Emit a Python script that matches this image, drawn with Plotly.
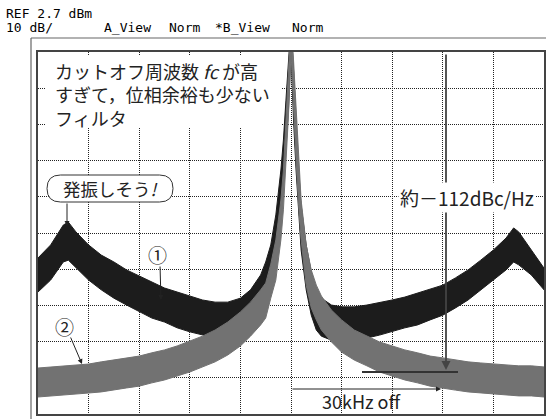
import plotly.graph_objects as go

# ---------------- data (offset frequency in kHz, level in dB below REF) -------------
freq_khz = [-50, -47.5, -45, -44, -42.5, -40, -37.5, -35, -32.5, -30, -27.5, -25, -22.5,
            -20, -17.5, -15, -12.5, -10, -8, -6, -5, -4, -3, -2, -1.5, -1, -0.5, 0,
            0.5, 1, 1.5, 2, 3, 4, 5, 6, 8, 10, 12.5, 15, 17.5, 20, 22.5, 25, 27.5,
            30, 32.5, 35, 37.5, 40, 42.5, 44, 45, 47.5, 50]

# trace A (black, (1)) : upper / lower edge of the noise band
a_upper = [-56.9, -53.3, -47.8, -47.0, -49.7, -53.3, -56.1, -58.0, -60.2, -61.9, -63.5, -65.2, -66.3,
           -67.4, -68.5, -69.1, -69.1, -68.0, -65.7, -61.6, -58.0, -53.3, -45.0, -32.6, -24.3, -13.3, -2.2, 8.0,
           -5.0, -18.8, -32.6, -42.3, -53.3, -60.8, -65.7, -68.0, -69.9, -70.4, -70.4, -69.9, -69.3, -68.5, -67.7, -66.6, -65.7,
           -64.4, -62.4, -60.2, -57.5, -54.7, -51.4, -48.6, -49.7, -54.7, -59.7]
a_lower = [-66.3, -63.0, -58.0, -57.5, -59.7, -63.0, -65.7, -68.0, -69.9, -71.8, -73.5, -74.6, -76.2,
           -77.3, -78.2, -79.0, -79.0, -78.2, -75.4, -71.8, -68.5, -64.4, -57.5, -45.0, -36.7, -27.1, -16.0, 0.0,
           -18.8, -32.6, -45.0, -54.7, -65.7, -72.7, -76.8, -78.5, -79.6, -79.6, -79.6, -79.0, -78.2, -77.3, -76.2, -75.4, -74.0,
           -72.7, -70.7, -68.5, -65.7, -63.0, -60.2, -58.0, -58.8, -61.6, -65.7]

# trace B (gray, (2))
b_upper = [-87.3, -87.0, -86.7, -86.6, -86.5, -86.2, -85.6, -85.1, -84.5, -84.0, -83.1, -82.3, -81.2,
           -79.8, -78.5, -76.8, -74.6, -71.8, -69.1, -65.7, -63.8, -58.6, -51.9, -40.9, -32.6, -18.8, -5.0, 8.0,
           -2.2, -16.0, -29.8, -40.9, -53.3, -60.2, -64.4, -67.4, -71.3, -74.0, -76.8, -78.5, -80.1, -81.2, -82.3, -83.1, -84.0,
           -84.5, -85.1, -85.6, -85.9, -86.2, -86.5, -86.6, -86.7, -86.7, -87.0]
b_lower = [-95.3, -95.0, -94.8, -94.7, -94.5, -94.2, -93.9, -93.4, -92.8, -92.3, -91.4, -90.6, -89.5,
           -88.4, -87.0, -85.6, -83.7, -81.2, -78.5, -75.4, -73.5, -68.0, -63.0, -51.9, -43.6, -31.2, -17.4, 0.0,
           -16.0, -29.8, -42.3, -51.9, -64.4, -70.7, -74.0, -76.8, -80.1, -82.9, -85.1, -86.7, -88.4, -89.5, -90.6, -91.4, -92.3,
           -92.8, -93.4, -93.9, -94.2, -94.5, -94.8, -94.9, -95.0, -95.0, -95.3]

header_line1 = "REF 2.7 dBm"
header_line2 = ["10 dB/", "A_View", "Norm", "*B_View", "Norm"]

# ---------------- figure -------------------------------------------------------------
W, H = 546, 419
ML, MR, MT, MB = 38, 2, 52, 5
PW, PH = W - ML - MR, H - MT - MB


def px(x):
    return (x - ML) / PW


def py(y):
    return (H - MB - y) / PH


fig = go.Figure()


def band(upper, lower, color):
    fig.add_trace(go.Scatter(
        x=freq_khz + freq_khz[::-1],
        y=upper + lower[::-1],
        mode="lines", fill="toself", fillcolor=color,
        line=dict(color=color, width=1), hoverinfo="skip"))


band(a_upper, a_lower, "#1c1c1c")
band(b_upper, b_lower, "#727272")

grid = dict(showgrid=True, gridcolor="#222", griddash="1px,1px", gridwidth=1, showticklabels=False,
            ticks="", zeroline=False, showline=True, mirror=True, linecolor="#444", linewidth=1.5)
fig.update_xaxes(range=[-50, 50], dtick=10, tick0=-50, **grid)
fig.update_yaxes(range=[-100, 0], dtick=10, tick0=-100, **grid)

jp = "Noto Sans CJK JP"
tc = "#222"
shapes = []
# outer frame
shapes.append(dict(type="line", xref="paper", yref="paper", x0=px(31), x1=px(31), y0=py(38), y1=py(425),
                   line=dict(color="#666", width=1.2)))
shapes.append(dict(type="line", xref="paper", yref="paper", x0=px(31), x1=px(550), y0=py(38), y1=py(38),
                   line=dict(color="#666", width=1.2)))
# white box behind the description text
shapes.append(dict(type="rect", xref="paper", yref="paper", x0=px(46), x1=px(282), y0=py(56), y1=py(128),
                   fillcolor="white", line=dict(width=0), layer="above"))
# callout bubble
x0b, x1b, yt, yb = px(47), px(173), py(175), py(202)
rx, ry = 13.5 / PW, 13.5 / PH
ym = (yt + yb) / 2
path = (f"M {x0b+rx},{yt} L {x1b-rx},{yt} Q {x1b},{yt} {x1b},{ym} Q {x1b},{yb} {x1b-rx},{yb} "
        f"L {x0b+rx},{yb} Q {x0b},{yb} {x0b},{ym} Q {x0b},{yt} {x0b+rx},{yt} Z")
shapes.append(dict(type="path", xref="paper", yref="paper", path=path, fillcolor="white",
                   line=dict(color="#333", width=1), layer="above"))
# marker level line
shapes.append(dict(type="line", xref="paper", yref="paper", x0=px(362), x1=px(458), y0=py(372), y1=py(372),
                   line=dict(color="#333", width=2), layer="above"))
fig.update_layout(shapes=shapes)

ann = []
mono = dict(family="DejaVu Sans Mono", size=13, color="#000")
ann.append(dict(text=header_line1, x=px(4), y=py(13), xref="paper", yref="paper", xanchor="left",
                yanchor="middle", showarrow=False, font=mono))
for t, xp in zip(header_line2, [4, 102, 167, 213, 290]):
    ann.append(dict(text=t, x=px(xp), y=py(28), xref="paper", yref="paper", xanchor="left",
                    yanchor="middle", showarrow=False, font=mono))

ann.append(dict(text="カットオフ周波数 <i>fc</i> が高<br>すぎて，位相余裕も少ない<br>フィルタ",
                x=px(53), y=py(94.5), xref="paper", yref="paper", xanchor="left", align="left",
                yanchor="middle", showarrow=False, font=dict(family=jp, size=18, color=tc)))


def arrow(x_head, y_head, x_tail, y_tail, width=1, color="#222"):
    ann.append(dict(text="", x=px(x_head), y=py(y_head), xref="paper", yref="paper",
                    ax=x_tail - x_head, ay=y_tail - y_head, showarrow=True, arrowhead=2,
                    arrowsize=1, arrowwidth=width, arrowcolor=color))


arrow(446, 370, 446, 53, width=1.8, color="#444")
ann.append(dict(text="約－112dBc/Hz", x=px(467), y=py(197), xref="paper", yref="paper",
                xanchor="center", yanchor="middle", showarrow=False, bgcolor="white",
                font=dict(family=jp, size=19, color=tc)))
ann.append(dict(text="発振しそう<i>!</i>", x=px(110), y=py(188.5), xref="paper", yref="paper",
                xanchor="center", yanchor="middle", showarrow=False, font=dict(family=jp, size=17.5, color=tc)))
arrow(67, 226, 67, 202)
ann.append(dict(text="①", x=px(157.5), y=py(254.5), xref="paper", yref="paper", xanchor="center",
                yanchor="middle", showarrow=False, font=dict(family=jp, size=19, color=tc)))
arrow(161, 300, 160, 265)
ann.append(dict(text="②", x=px(64.5), y=py(326), xref="paper", yref="paper", xanchor="center",
                yanchor="middle", showarrow=False, font=dict(family=jp, size=19, color=tc)))
arrow(82, 364, 70, 336)
arrow(441, 389, 291, 389)
ann.append(dict(text="30kHz off", x=px(362), y=py(401), xref="paper", yref="paper", xanchor="center",
                yanchor="middle", showarrow=False, font=dict(family=jp, size=18, color=tc)))

fig.update_layout(annotations=ann, width=W, height=H,
                  margin=dict(l=ML, r=MR, t=MT, b=MB, autoexpand=False),
                  paper_bgcolor="white", plot_bgcolor="white", showlegend=False)

fig.write_html("out.html", config={"displayModeBar": False},
               post_script="document.body.style.margin='0';document.body.style.overflow='hidden';")
